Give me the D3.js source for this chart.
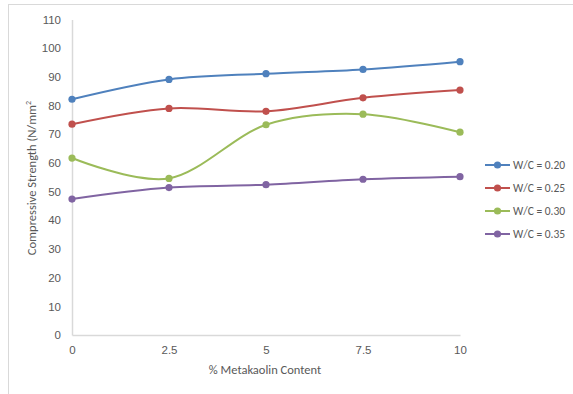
<!DOCTYPE html>
<html>
<head>
<meta charset="utf-8">
<script src="https://cdn.jsdelivr.net/npm/d3@7"></script>
<style>
  html, body { margin: 0; padding: 0; background: #fff; }
  svg { display: block; font-family: Calibri, Carlito, Lato, "Open Sans", sans-serif; }
</style>
</head>
<body>
<svg id="chart" width="573" height="394"></svg>
<script>
// % metakaolin replacement levels
const metakaolin = [0, 2.5, 5, 7.5, 10];
const xTickLabels = ["0", "2.5", "5", "7.5", "10"];
const yTicks = [0, 10, 20, 30, 40, 50, 60, 70, 80, 90, 100, 110];

// compressive strength (N/mm²) for each water/cement ratio
const wc020 = [82.2, 89.1, 91.1, 92.6, 95.3];
const wc025 = [73.5, 79.0, 78.0, 82.7, 85.4];
const wc030 = [61.7, 54.6, 73.3, 77.0, 70.7];
const wc035 = [47.4, 51.4, 52.4, 54.3, 55.2];

const seriesNames = ["W/C = 0.20", "W/C = 0.25", "W/C = 0.30", "W/C = 0.35"];
const seriesColors = ["#4F81BD", "#C0504D", "#9BBB59", "#8064A2"];
const seriesValues = [wc020, wc025, wc030, wc035];

const svg = d3.select("#chart");
const textColor = "#595959";
const axisColor = "#D9D9D9";

// outer frame (top and left edges visible)
svg.append("line").attr("x1", 8).attr("x2", 573).attr("y1", 4.5).attr("y2", 4.5)
  .attr("stroke", "#D9D9D9").attr("stroke-width", 1);
svg.append("line").attr("x1", 8.5).attr("x2", 8.5).attr("y1", 4).attr("y2", 394)
  .attr("stroke", "#D9D9D9").attr("stroke-width", 1);

const x = d3.scaleLinear().domain([0, 10]).range([72, 460]);
const y = d3.scaleLinear().domain([0, 110]).range([335, 19.5]);

// y axis
const yAxis = svg.append("g").attr("transform", `translate(${x(0)},0)`)
  .call(d3.axisLeft(y).tickValues(yTicks).tickSize(0).tickPadding(11));
yAxis.select(".domain").attr("stroke", axisColor).attr("stroke-width", 1.5);
yAxis.selectAll("text").attr("fill", textColor).style("font-size", "11.5px");

// x axis
const xAxis = svg.append("g").attr("transform", `translate(0,${y(0)})`)
  .call(d3.axisBottom(x).tickValues(metakaolin).tickFormat((d, i) => xTickLabels[i]).tickSize(0).tickPadding(11));
xAxis.select(".domain").attr("stroke", axisColor).attr("stroke-width", 1.5);
xAxis.selectAll("text").attr("fill", textColor).style("font-size", "11.5px");

// axis titles
svg.append("text")
  .attr("x", 265).attr("y", 374)
  .attr("text-anchor", "middle")
  .attr("fill", textColor).style("font-size", "12.5px")
  .text("% Metakaolin Content");

const yTitle = svg.append("text")
  .attr("transform", "translate(36,178) rotate(-90)")
  .attr("text-anchor", "middle")
  .attr("fill", textColor).style("font-size", "12.5px");
yTitle.append("tspan").text("Compressive Strength (N/mm");
yTitle.append("tspan").attr("baseline-shift", "super").style("font-size", "8px").text("2");

// smoothed series lines with markers
const line = d3.line()
  .x((d, i) => x(metakaolin[i]))
  .y(d => y(d))
  .curve(d3.curveCatmullRom.alpha(0));

seriesValues.forEach((vals, s) => {
  const g = svg.append("g");
  g.append("path")
    .attr("d", line(vals))
    .attr("fill", "none")
    .attr("stroke", seriesColors[s])
    .attr("stroke-width", 2);
  g.selectAll("circle").data(vals).join("circle")
    .attr("cx", (d, i) => x(metakaolin[i]))
    .attr("cy", d => y(d))
    .attr("r", 3.6)
    .attr("fill", seriesColors[s]);
});

// legend
const legend = svg.append("g");
seriesNames.forEach((name, s) => {
  const ly = 165 + s * 23;
  legend.append("line").attr("x1", 485).attr("x2", 510).attr("y1", ly).attr("y2", ly)
    .attr("stroke", seriesColors[s]).attr("stroke-width", 2);
  legend.append("circle").attr("cx", 497.5).attr("cy", ly).attr("r", 3.6).attr("fill", seriesColors[s]);
  legend.append("text").attr("x", 513).attr("y", ly).attr("dy", "0.35em")
    .attr("fill", textColor).style("font-size", "11.5px").text(name);
});
</script>
</body>
</html>
